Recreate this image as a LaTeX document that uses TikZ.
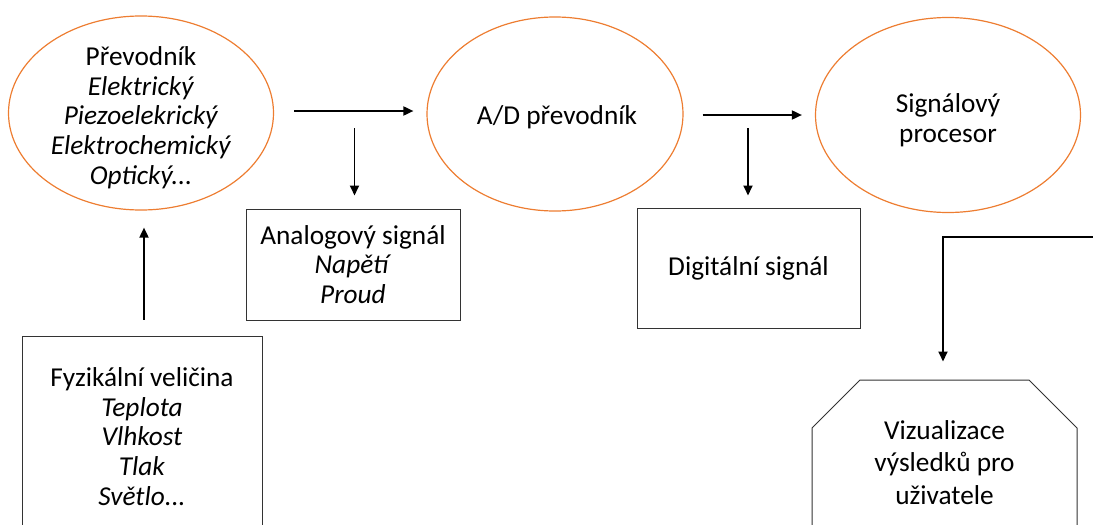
\documentclass[tikz,border=0pt]{standalone}
\usepackage{fontspec}
\setmainfont{Carlito}
\usetikzlibrary{shapes.geometric,shapes.misc,arrows.meta}
\definecolor{accent}{HTML}{ED7D31}
\tikzset{
  txt/.style={align=center,font=\fontsize{27.3}{29.7}\selectfont,inner sep=0pt},
  oval/.style={ellipse,draw=accent,line width=1.2pt,inner sep=0pt},
  plainbox/.style={txt,rectangle,draw=black!80,line width=1pt},
  flow/.style={line width=1.8pt,-{Triangle[length=10pt,width=9pt]}}
}
\begin{document}
\begin{tikzpicture}[x=1pt,y=-1pt]
\useasboundingbox (0,0) rectangle (1093,525);
\clip (0,0) rectangle (1093,525);

% stages of the measuring chain (outline and caption)
\node[oval,minimum width=265pt,minimum height=194pt] (trans) at (141,113) {};
\node[txt] (transtxt) at (141,117.5)
  {Převodník\\\textit{Elektrický}\\\textit{Piezoelekrický}\\\textit{Elektrochemický}\\\textit{Optický...}};
\node[oval,minimum width=256pt,minimum height=194pt] (adc) at (555,114) {};
\node[txt] (adctxt) at (557,117) {A/D převodník};
\node[oval,minimum width=265pt,minimum height=195pt] (dsp) at (948,115) {};
\node[txt] (dsptxt) at (948,120) {Signálový\\procesor};

% signal boxes
\node[plainbox,minimum width=214pt,minimum height=111pt] (analog) at (353,264.5)
  {Analogový signál\\\textit{Napětí}\\\textit{Proud}};
\node[plainbox,minimum width=223pt,minimum height=120pt] (digital) at (748.5,268)
  {Digitální signál};
\node[plainbox,minimum width=240pt,minimum height=201pt] (phys) at (142,436.5)
  {Fyzikální veličina\\\textit{Teplota}\\\textit{Vlhkost}\\\textit{Tlak}\\\textit{Světlo...}};
\node[txt,font=\fontsize{27.3}{32.5}\selectfont,chamfered rectangle,
  chamfered rectangle corners={north west,north east},
  chamfered rectangle xsep=25pt,chamfered rectangle ysep=23pt,
  draw=black!80,line width=1pt,minimum width=265pt,minimum height=165pt] (vis) at (944.5,462.5)
  {Vizualizace\\výsledků pro\\uživatele};

% connectors
\coordinate (ab) at (354.5,111);
\coordinate (dd) at (748,115);
\coordinate (feed) at (1093,237);
\draw[flow,shorten <=20pt,shorten >=13pt] (trans.east |- ab) -- (adc.west |- ab);
\draw[flow,shorten <=17pt,shorten >=13pt] (ab) -- (analog.north -| ab);
\draw[flow,shorten <=19pt,shorten >=13pt] (adc.east |- dd) -- (dsp.west |- dd);
\draw[flow,shorten <=13pt,shorten >=12pt] (dd) -- (digital.north -| dd);
\draw[flow,shorten <=16pt,shorten >=17pt] (phys.north -| 144,0) -- (trans.south -| 144,0);
\draw[flow,shorten >=18pt] (feed) -| (vis.north -| 943,0);
\end{tikzpicture}
\end{document}
